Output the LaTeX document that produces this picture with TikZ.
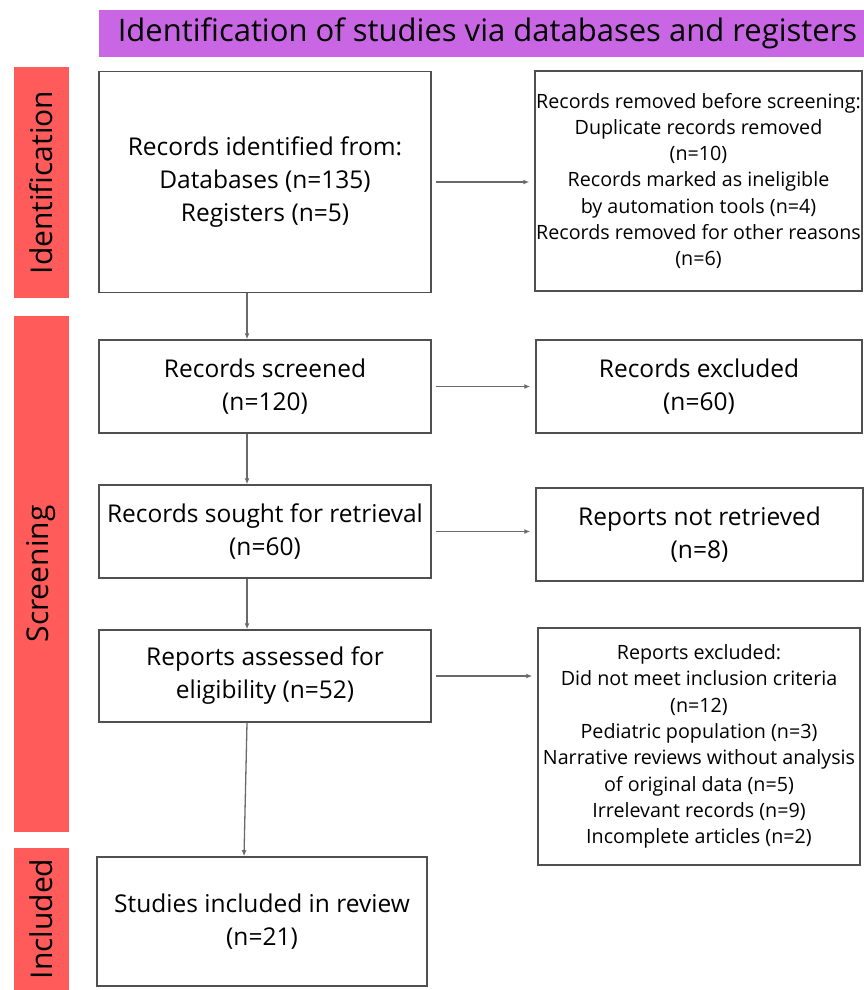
\documentclass[tikz,border=0pt]{standalone}
\usepackage{fontspec}
\setmainfont{Open Sans}
\usetikzlibrary{arrows.meta}
\definecolor{headpurple}{HTML}{C966E4}
\definecolor{phasered}{HTML}{FF5B5B}
\definecolor{boxgray}{HTML}{505050}
\definecolor{arrowgray}{HTML}{6A6A6A}

\begin{document}
\begin{tikzpicture}[x=1pt, y=-1pt,
    box/.style={draw=boxgray, line width=1.5pt, align=center, inner sep=0pt},
    big/.style={font=\fontsize{24.5}{33}\selectfont},
    small/.style={font=\fontsize{19.7}{26.3}\selectfont},
    phase/.style={fill=phasered, minimum height=55pt, inner sep=0pt, rotate=90, font=\fontsize{30}{32}\selectfont},
    link/.style={draw=arrowgray, line width=1.3pt, shorten <=4pt, shorten >=5pt, -{Latex[length=6pt,width=5pt]}}]
    \useasboundingbox (0,0) rectangle (863,990);

    % Titolo
    \node[fill=headpurple, minimum width=777pt, minimum height=47pt, inner sep=0pt,
          font=\fontsize{31}{33}\selectfont] (head) at (487.5,33.5)
          {Identification of studies via databases and registers};

    % Fasi
    \node[phase, minimum width=231pt] (phid) at (41.5,182.5) {Identification};
    \node[phase, minimum width=516pt] (phscr) at (41.5,574) {Screening};
    \node[phase, minimum width=142pt] (phinc) at (41.5,919) {Included};

    % Riquadri a sinistra
    \node[box, big, minimum width=332pt, minimum height=221pt] (id) at (265,182)
        {Records identified from:\\Databases (n=135)\\Registers (n=5)};
    \node[box, big, minimum width=332pt, minimum height=93pt] (scr) at (265,386.5)
        {Records screened\\(n=120)};
    \node[box, big, minimum width=332pt, minimum height=93pt] (ret) at (265,531.5)
        {Records sought for retrieval\\(n=60)};
    \node[box, big, minimum width=332pt, minimum height=92pt] (elig) at (265,676)
        {Reports assessed for\\eligibility (n=52)};
    \node[box, big, minimum width=330pt, minimum height=129pt] (incl) at (262,921.5)
        {Studies included in review\\(n=21)};

    % Riquadri a destra
    \node[box, small, minimum width=327pt, minimum height=220pt] (rem) at (698.5,181)
        {Records removed before screening:\\Duplicate records removed\\(n=10)\\Records marked as ineligible\\by automation tools (n=4)\\Records removed for other reasons\\(n=6)};
    \node[box, big, minimum width=326pt, minimum height=93pt] (exc) at (699,386.5)
        {Records excluded\\(n=60)};
    \node[box, big, minimum width=327pt, minimum height=93pt] (notret) at (699.5,534.5)
        {Reports not retrieved\\(n=8)};
    \node[box, small, minimum width=322pt, minimum height=237pt] (repexc) at (699,746.5)
        {Reports excluded:\\Did not meet inclusion criteria\\(n=12)\\Pediatric population (n=3)\\Narrative reviews without analysis\\of original data (n=5)\\Irrelevant records (n=9)\\Incomplete articles (n=2)};

    % Frecce
    \foreach \a/\b in {id/rem, scr/exc, ret/notret, elig/repexc} {
            \draw[link] (\a.east) -- (\a.east -| \b.west);
        }
    \foreach \a/\b in {id/scr, scr/ret, ret/elig, elig/incl} {
            \draw[link, shorten <=0pt, shorten >=0pt] ([xshift=-18pt]\a.south) -- ([xshift=-18pt]\b.north);
        }
\end{tikzpicture}
\end{document}
